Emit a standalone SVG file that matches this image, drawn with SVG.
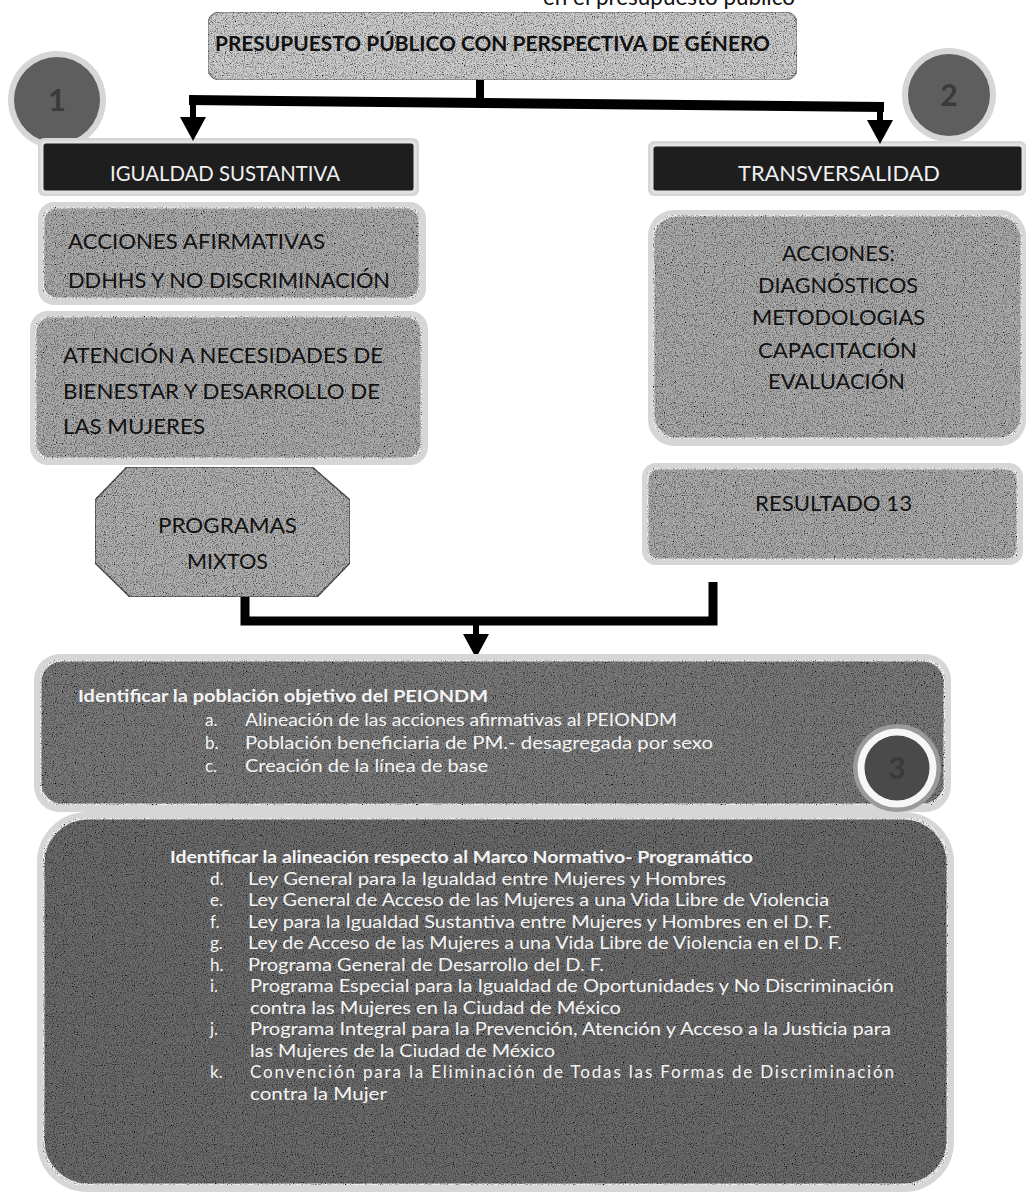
<svg xmlns="http://www.w3.org/2000/svg" width="1026" height="1200" viewBox="0 0 1026 1200">
<style>
  .t { font-family: Lato, "Open Sans", "Liberation Sans", sans-serif; }
  .hdr { fill: #f0f0f0; font-size: 21px; }
  .blk { fill: #111; font-size: 22px; }
  .wht { fill: #f4f4f4; font-size: 17px; }
  .bold { font-weight: bold; }
  .halo { fill: #d6d6d6; }
  .light { fill: #cdcdcd; stroke: #8c8c8c; stroke-width: 1.5; filter: url(#grain); }
  .mid { fill: #ababab; stroke: #ececec; stroke-width: 3; filter: url(#grain); }
  .dark { fill: #1e1e1e; stroke: #e2e2e2; stroke-width: 3; }
  .deep { fill: #7a7a7a; stroke: #f2f2f2; stroke-width: 3; filter: url(#grain); }
  .deeper { fill: #6c6c6c; stroke: #f2f2f2; stroke-width: 3; filter: url(#grain); }
  .num { fill: #3a3a3a; font-size: 30px; font-weight: bold; }
  .conn { fill: none; stroke: #000; stroke-linejoin: miter; stroke-linecap: butt; }
</style>
<defs>
  <filter id="grain" x="0" y="0" width="100%" height="100%">
    <feTurbulence type="fractalNoise" baseFrequency="0.9" numOctaves="2" seed="4" result="n"/>
    <feColorMatrix in="n" type="matrix" values="0 0 0 0 0  0 0 0 0 0  0 0 0 0 0  0 0 0 2.5 -1.1" result="a"/>
    <feComposite in="a" in2="SourceGraphic" operator="in" result="m"/>
    <feMerge><feMergeNode in="SourceGraphic"/><feMergeNode in="m"/></feMerge>
  </filter>
  <marker id="ah" markerUnits="userSpaceOnUse" markerWidth="24" markerHeight="26" refX="0" refY="13" orient="auto">
    <path d="M0,0 L24,13 L0,26 Z" fill="#000"/>
  </marker>
</defs>
<rect x="0" y="0" width="1026" height="1200" fill="#ffffff"/>

<!-- top caption, cut off by the page edge as in the reference -->
<text class="t" x="543" y="5" font-size="23" fill="#111" textLength="252" lengthAdjust="spacingAndGlyphs">en el presupuesto público</text>

<g id="title">
  <rect x="208" y="12" width="589" height="68" rx="12" class="light"/>
  <text class="t bold" x="215" y="51" font-size="20" fill="#111" textLength="555" lengthAdjust="spacingAndGlyphs">PRESUPUESTO PÚBLICO CON PERSPECTIVA DE GÉNERO</text>
</g>

<g id="circle-1">
  <circle cx="57" cy="100" r="49" class="halo"/>
  <circle cx="57" cy="100" r="43" fill="#5e5e5e"/>
  <text class="t num" x="57" y="111" text-anchor="middle">1</text>
</g>
<g id="circle-2">
  <circle cx="949" cy="95" r="47" class="halo"/>
  <circle cx="949" cy="95" r="41" fill="#5e5e5e"/>
  <text class="t num" x="949" y="106" text-anchor="middle">2</text>
</g>

<g id="igualdad-sustantiva">
  <rect x="38" y="138" width="381" height="58" rx="6" class="halo"/>
  <rect x="42" y="142" width="373" height="50" rx="4" class="dark"/>
  <text class="t hdr" x="110" y="181" textLength="230" lengthAdjust="spacingAndGlyphs">IGUALDAD SUSTANTIVA</text>
</g>

<g id="transversalidad">
  <rect x="648" y="141" width="378" height="55" rx="6" class="halo"/>
  <rect x="652" y="145" width="371" height="47" rx="4" class="dark"/>
  <text class="t hdr" x="738" y="181" textLength="202" lengthAdjust="spacingAndGlyphs">TRANSVERSALIDAD</text>
</g>

<g id="acciones-afirmativas">
  <rect x="38" y="202" width="388" height="103" rx="16" class="halo"/>
  <rect x="43" y="207" width="377" height="92" rx="14" class="mid"/>
  <text class="t blk" x="68" y="249" textLength="257" lengthAdjust="spacingAndGlyphs">ACCIONES AFIRMATIVAS</text>
  <text class="t blk" x="68" y="288" textLength="322" lengthAdjust="spacingAndGlyphs">DDHHS Y NO DISCRIMINACIÓN</text>
</g>

<g id="atencion-necesidades">
  <rect x="30" y="311" width="398" height="154" rx="18" class="halo"/>
  <rect x="35" y="316" width="387" height="143" rx="16" class="mid"/>
  <text class="t blk" x="63" y="363" textLength="320" lengthAdjust="spacingAndGlyphs">ATENCIÓN A NECESIDADES DE</text>
  <text class="t blk" x="63" y="399" textLength="317" lengthAdjust="spacingAndGlyphs">BIENESTAR Y DESARROLLO DE</text>
  <text class="t blk" x="63" y="434" textLength="142" lengthAdjust="spacingAndGlyphs">LAS MUJERES</text>
</g>

<g id="programas-mixtos">
  <polygon points="127,467 312,467 350,500 350,563 317,597 130,597 95,563 95,500" fill="#b0b0b0" stroke="#555" stroke-width="1.5" filter="url(#grain)"/>
  <text class="t blk" x="158" y="533" textLength="139" lengthAdjust="spacingAndGlyphs">PROGRAMAS</text>
  <text class="t blk" x="187" y="569" textLength="81" lengthAdjust="spacingAndGlyphs">MIXTOS</text>
</g>

<g id="acciones-transversalidad">
  <rect x="648" y="210" width="378" height="236" rx="26" class="halo"/>
  <rect x="653" y="215" width="369" height="224" rx="24" class="mid"/>
  <text class="t blk" x="782" y="261" textLength="113" lengthAdjust="spacingAndGlyphs">ACCIONES:</text>
  <text class="t blk" x="758" y="293" textLength="160" lengthAdjust="spacingAndGlyphs">DIAGNÓSTICOS</text>
  <text class="t blk" x="752" y="325" textLength="173" lengthAdjust="spacingAndGlyphs">METODOLOGIAS</text>
  <text class="t blk" x="758" y="358" textLength="159" lengthAdjust="spacingAndGlyphs">CAPACITACIÓN</text>
  <text class="t blk" x="768" y="389" textLength="137" lengthAdjust="spacingAndGlyphs">EVALUACIÓN</text>
</g>

<g id="resultado-13">
  <rect x="642" y="463" width="381" height="102" rx="14" class="halo"/>
  <rect x="647" y="468" width="371" height="92" rx="12" class="mid"/>
  <text class="t blk" x="755" y="511" textLength="157" lengthAdjust="spacingAndGlyphs">RESULTADO 13</text>
</g>

<g id="connectors">
  <path class="conn" d="M480,80 V102" stroke-width="8"/>
  <path class="conn" d="M189,100 L884,107" stroke-width="10"/>
  <path class="conn" d="M193,100 V117" stroke-width="6" marker-end="url(#ah)"/>
  <path class="conn" d="M880,106 V120" stroke-width="6" marker-end="url(#ah)"/>
  <path class="conn" d="M245,597 V621 H713 V582" stroke-width="9"/>
  <path class="conn" d="M476,621 V634" stroke-width="6" marker-end="url(#ah)"/>
</g>

<g id="poblacion-objetivo">
  <rect x="34" y="654" width="917" height="158" rx="26" class="halo"/>
  <rect x="40" y="660" width="905" height="145" rx="22" class="deep"/>
  <text class="t wht bold" x="78" y="702" textLength="410" lengthAdjust="spacingAndGlyphs">Identificar la población objetivo del PEIONDM</text>
  <text class="t wht" x="205" y="726">a.</text>
  <text class="t wht" x="245" y="726" textLength="432" lengthAdjust="spacingAndGlyphs">Alineación de las acciones afirmativas al PEIONDM</text>
  <text class="t wht" x="205" y="749">b.</text>
  <text class="t wht" x="245" y="749" textLength="468" lengthAdjust="spacingAndGlyphs">Población beneficiaria de PM.- desagregada por sexo</text>
  <text class="t wht" x="205" y="772">c.</text>
  <text class="t wht" x="245" y="772" textLength="243" lengthAdjust="spacingAndGlyphs">Creación de la línea de base</text>
</g>

<g id="circle-3">
  <circle cx="897" cy="768" r="44" fill="#9a9a9a"/>
  <circle cx="897" cy="768" r="36" fill="#4a4a4a" stroke="#f6f6f6" stroke-width="7"/>
  <text class="t num" x="897" y="779" text-anchor="middle">3</text>
</g>

<g id="marco-normativo">
  <rect x="37" y="812" width="917" height="380" rx="50" class="halo"/>
  <rect x="43" y="818" width="905" height="367" rx="45" class="deeper"/>
  <text class="t wht bold" x="170" y="863" textLength="583" lengthAdjust="spacingAndGlyphs">Identificar la alineación respecto al Marco Normativo- Programático</text>
  <text class="t wht" x="210" y="884.5">d.</text>
  <text class="t wht" x="248" y="884.5" textLength="478" lengthAdjust="spacingAndGlyphs">Ley General para la Igualdad entre Mujeres y Hombres</text>
  <text class="t wht" x="210" y="906">e.</text>
  <text class="t wht" x="248" y="906" textLength="581" lengthAdjust="spacingAndGlyphs">Ley General de Acceso de las Mujeres a una Vida Libre de Violencia</text>
  <text class="t wht" x="210" y="927.5">f.</text>
  <text class="t wht" x="248" y="927.5" textLength="584" lengthAdjust="spacingAndGlyphs">Ley para la Igualdad Sustantiva entre Mujeres y Hombres en el D. F.</text>
  <text class="t wht" x="210" y="949">g.</text>
  <text class="t wht" x="248" y="949" textLength="594" lengthAdjust="spacingAndGlyphs">Ley de Acceso de las Mujeres a una Vida Libre de Violencia en el D. F.</text>
  <text class="t wht" x="210" y="970.5">h.</text>
  <text class="t wht" x="248" y="970.5" textLength="356" lengthAdjust="spacingAndGlyphs">Programa General de Desarrollo del D. F.</text>
  <text class="t wht" x="210" y="992">i.</text>
  <text class="t wht" x="250" y="992" textLength="644" lengthAdjust="spacingAndGlyphs">Programa Especial para la Igualdad de Oportunidades y No Discriminación</text>
  <text class="t wht" x="250" y="1013.5" textLength="371" lengthAdjust="spacingAndGlyphs">contra las Mujeres en la Ciudad de México</text>
  <text class="t wht" x="210" y="1035">j.</text>
  <text class="t wht" x="250" y="1035" textLength="641" lengthAdjust="spacingAndGlyphs">Programa Integral para la Prevención, Atención y Acceso a la Justicia para</text>
  <text class="t wht" x="250" y="1056.5" textLength="305" lengthAdjust="spacingAndGlyphs">las Mujeres de la Ciudad de México</text>
  <text class="t wht" x="210" y="1078">k.</text>
  <text class="t wht" x="250" y="1078" textLength="644" lengthAdjust="spacing">Convención para la Eliminación de Todas las Formas de Discriminación</text>
  <text class="t wht" x="250" y="1099.5" textLength="137" lengthAdjust="spacingAndGlyphs">contra la Mujer</text>
</g>
</svg>
